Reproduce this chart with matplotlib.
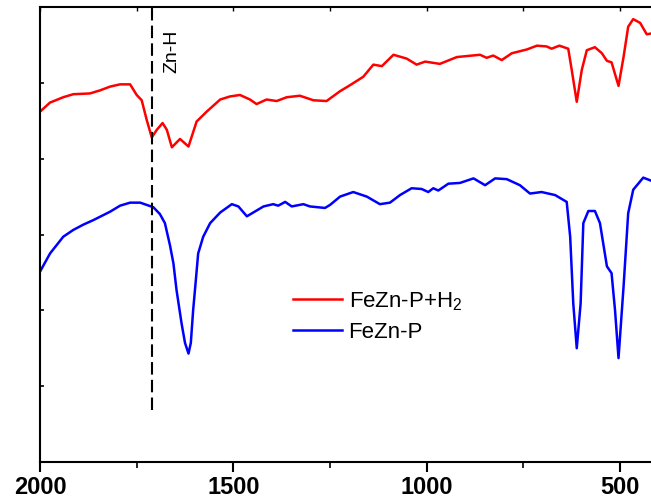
import matplotlib
matplotlib.use("Agg")
import matplotlib.pyplot as plt
from matplotlib.ticker import MultipleLocator, NullFormatter

plt.rcParams['font.family'] = ['Liberation Sans', 'DejaVu Sans']
plt.rcParams['mathtext.fontset'] = 'custom'
plt.rcParams['mathtext.rm'] = 'Liberation Sans'

## FTIR spectra, wavenumber (cm-1) vs. transmittance (a.u.)
wn_h2 = [2000, 1974, 1940, 1914, 1871, 1845, 1819, 1793, 1767, 1750, 1737, 1724,
         1711, 1698, 1683, 1672, 1659, 1638, 1616, 1595, 1569, 1534, 1509, 1483,
         1457, 1440, 1414, 1388, 1362, 1328, 1293, 1259, 1224, 1198, 1164, 1138,
         1116, 1086, 1052, 1026, 1004, 966, 922, 862, 845, 828, 806, 780, 741,
         715, 690, 677, 657, 634, 625, 612, 599, 586, 565, 547, 534, 522, 504,
         491, 479, 466, 448, 431, 420]
t_h2 = [4.62, 4.74, 4.81, 4.85, 4.86, 4.90, 4.95, 4.98, 4.98, 4.84, 4.77, 4.51,
        4.28, 4.38, 4.47, 4.38, 4.15, 4.26, 4.16, 4.49, 4.62, 4.78, 4.82, 4.84,
        4.78, 4.72, 4.78, 4.76, 4.81, 4.83, 4.77, 4.76, 4.89, 4.97, 5.08, 5.24,
        5.22, 5.37, 5.32, 5.24, 5.28, 5.25, 5.34, 5.37, 5.33, 5.36, 5.30, 5.39,
        5.44, 5.49, 5.48, 5.45, 5.49, 5.45, 5.17, 4.75, 5.17, 5.43, 5.47, 5.39,
        5.29, 5.27, 4.96, 5.34, 5.74, 5.84, 5.79, 5.64, 5.65]

wn_p = [2000, 1974, 1940, 1914, 1888, 1862, 1819, 1793, 1767, 1741, 1707, 1690,
        1677, 1664, 1655, 1647, 1634, 1625, 1616, 1610, 1604, 1597, 1591, 1578,
        1560, 1534, 1504, 1487, 1465, 1422, 1397,
        1384, 1366, 1349, 1319, 1302, 1263, 1250, 1224, 1190, 1155, 1121, 1095,
        1069, 1039, 1013, 996, 983, 970, 944, 914, 879, 849, 823, 793, 759, 733,
        703, 668, 638, 629, 621, 612, 602, 595, 582, 565, 552, 534, 522, 513,
        504, 491, 479, 466, 440, 420]
t_p = [2.51, 2.75, 2.97, 3.06, 3.13, 3.19, 3.30, 3.38, 3.42, 3.42, 3.36, 3.27,
       3.15, 2.86, 2.62, 2.27, 1.83, 1.57, 1.43, 1.57, 2.00, 2.40, 2.75, 2.97,
       3.15, 3.29, 3.40, 3.37, 3.24, 3.37, 3.40,
       3.38, 3.43, 3.37, 3.40, 3.37, 3.35, 3.39, 3.50, 3.56, 3.50, 3.40, 3.42,
       3.52, 3.61, 3.60, 3.56, 3.61, 3.58, 3.67, 3.68, 3.74, 3.65, 3.74, 3.73,
       3.65, 3.54, 3.56, 3.52, 3.43, 2.97, 2.09, 1.50, 2.09, 3.15, 3.31, 3.31,
       3.15, 2.58, 2.49, 2.00, 1.37, 2.31, 3.28, 3.59, 3.75, 3.71]

labels = ['FeZn-P+H$_\\mathregular{2}$', 'FeZn-P']
zn_h = 1710

fig = plt.figure(figsize=(6.51, 5.04), dpi=100)
ax = fig.add_axes([40/651, 42/504, 1 - 40/651, 455/504])

ax.plot(wn_h2, t_h2, color='red', lw=1.8, solid_joinstyle='round', label=labels[0])
ax.plot(wn_p, t_p, color='blue', lw=1.8, solid_joinstyle='round', label=labels[1])
ax.vlines(zn_h, 0.69, 6.0, colors='black', linestyles=(0, (6, 2.5)), lw=1.5)
ax.text(zn_h - 51, 5.41, 'Zn-H', rotation=90, ha='center', va='center', fontsize=14)

ax.set_xlim(2000, 420)
ax.set_ylim(0, 6)
ax.spines['right'].set_visible(False)
for s in ['left', 'bottom', 'top']:
    ax.spines[s].set_linewidth(1.5)

ax.xaxis.set_major_locator(MultipleLocator(500))
ax.xaxis.set_minor_locator(MultipleLocator(250))
ax.yaxis.set_major_locator(MultipleLocator(1))
ax.yaxis.set_major_formatter(NullFormatter())
ax.tick_params(axis='x', which='major', direction='out', length=7, width=1.5,
               top=False, labelsize=17, pad=3)
ax.tick_params(axis='x', which='minor', direction='out', length=4, width=1.2, top=False)
ax.tick_params(axis='y', which='major', direction='in', length=3, width=1.2, right=False)
for lab in ax.get_xticklabels():
    lab.set_fontweight('bold')

# small ticks along the top
sec = ax.secondary_xaxis('top')
sec.xaxis.set_major_locator(MultipleLocator(250))
sec.xaxis.set_major_formatter(NullFormatter())
sec.tick_params(direction='in', length=3, width=1.0)
sec.spines['top'].set_visible(False)

ax.legend(loc='center left', bbox_to_anchor=(0.414, 0.32), frameon=False,
          fontsize=16, handlelength=2.2, handletextpad=0.3, labelspacing=0.4,
          borderpad=0, borderaxespad=0)

fig.savefig("out.png", dpi=100)
